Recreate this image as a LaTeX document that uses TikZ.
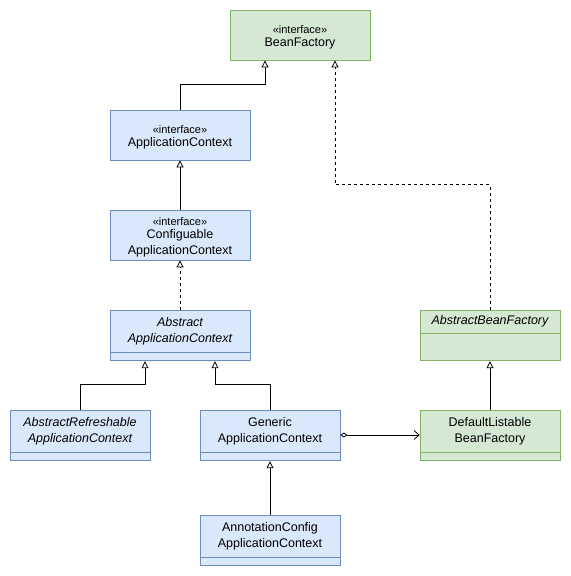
\documentclass[tikz,border=0pt]{standalone}
\usepackage{fontspec}
\setmainfont{Liberation Sans}
\usetikzlibrary{positioning, arrows.meta, calc}

\definecolor{ctxFill}{HTML}{DAE8FC}
\definecolor{ctxBorder}{HTML}{6C8EBF}
\definecolor{beanFill}{HTML}{D5E8D4}
\definecolor{beanBorder}{HTML}{82B366}

\newcommand{\nameFont}{\fontsize{12.5bp}{16bp}\selectfont}
\newcommand{\stereo}[1]{\rule{0pt}{13bp}{\fontsize{11bp}{13bp}\selectfont #1}\\[-3bp]}

\begin{document}
\begin{tikzpicture}[
    x=1bp, y=-1bp,
    % --- STILURI ---
    box/.style={
            draw,
            line width=0.8bp,
            minimum width=140bp,
            minimum height=#1,
            inner sep=0pt,
            align=center,
            font=\nameFont
        },
    ctx/.style={draw=ctxBorder, fill=ctxFill},
    bean/.style={draw=beanBorder, fill=beanFill},
    extendsArrow/.style={
            -{Triangle[open, length=7bp, width=7bp]},
            line width=0.8bp
        },
    implArrow/.style={
            extendsArrow,
            dash pattern=on 3bp off 3bp
        },
    holdsArrow/.style={
            {Diamond[open, length=7bp, width=5bp]}-{Straight Barb[length=5bp, width=9bp]},
            line width=0.8bp
        }
    ]
    \useasboundingbox (0,0) rectangle (571,576);

    % 1. Interfetele
    \node[bean, box=50bp] (bf) at (300,35) {\stereo{«interface»}BeanFactory};
    \node[ctx, box=50bp] (ac) at (180,135) {\stereo{«interface»}ApplicationContext};
    \node[ctx, box=50bp] (cac) at (180,235) {\stereo{«interface»}Configuable\\ApplicationContext};

    % 2. Clasele de context (antet + compartiment gol)
    \node[ctx, box=42bp] (aac) at (180,331) {\itshape Abstract\\\itshape ApplicationContext};
    \node[ctx, box=8bp, below=0pt of aac] (aacPart) {};

    \node[ctx, box=42bp] (arac) at (80,431) {\itshape AbstractRefreshable\\\itshape ApplicationContext};
    \node[ctx, box=8bp, below=0pt of arac] (aracPart) {};

    \node[ctx, box=42bp] (gac) at (270,431) {Generic\\ApplicationContext};
    \node[ctx, box=8bp, below=0pt of gac] (gacPart) {};

    \node[ctx, box=42bp] (anac) at (270,536) {AnnotationConfig\\ApplicationContext};
    \node[ctx, box=8bp, below=0pt of anac] (anacPart) {};

    % 3. Fabricile de bean-uri
    \node[bean, box=23bp] (abf) at (490,321.5) {\itshape AbstractBeanFactory};
    \node[bean, box=27bp, below=0pt of abf] (abfPart) {};

    \node[bean, box=42bp] (dlbf) at (490,431) {DefaultListable\\BeanFactory};
    \node[bean, box=8bp, below=0pt of dlbf] (dlbfPart) {};

    % 4. Conexiuni
    \draw[extendsArrow] (ac.north) -- ++(0,-25) -| ([xshift=-35bp]bf.south);
    \draw[implArrow] (abf.north) -- ++(0,-125) -| ([xshift=35bp]bf.south);
    \draw[extendsArrow] (cac.north) -- (ac.south);
    \draw[implArrow] (aac.north) -- (cac.south);
    \draw[extendsArrow] (arac.north) -- ++(0,-25) -| ([xshift=-35bp]aacPart.south);
    \draw[extendsArrow] (gac.north) -- ++(0,-25) -| ([xshift=35bp]aacPart.south);
    \draw[extendsArrow] (anac.north) -- (gacPart.south);
    \draw[extendsArrow] (dlbf.north) -- (abfPart.south);
    \draw[holdsArrow] ([yshift=-4bp]gac.east) -- ([yshift=-4bp]dlbf.west);

\end{tikzpicture}
\end{document}
